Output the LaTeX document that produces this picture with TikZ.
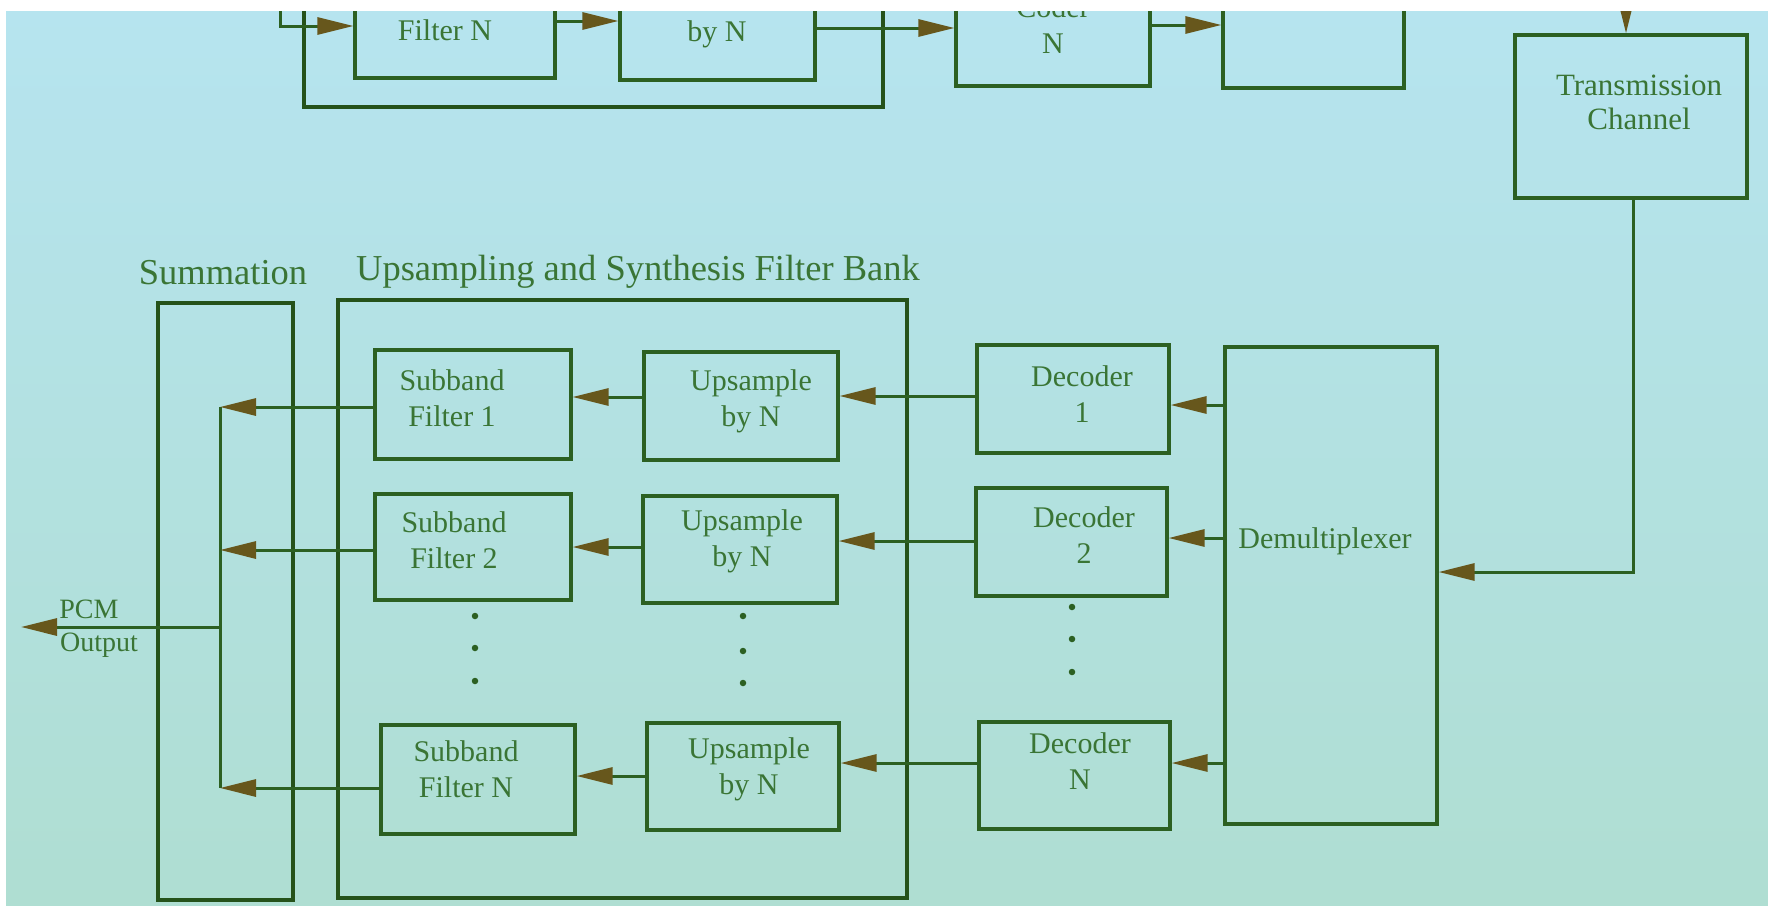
\documentclass[tikz,border=0pt]{standalone}
\usepackage{fontspec}
\setmainfont{Liberation Serif}
\usetikzlibrary{arrows.meta}

\definecolor{paper}{HTML}{B6E4EF}
\definecolor{paperlow}{HTML}{AFDED2}
\definecolor{ink}{HTML}{2C6022}
\definecolor{inkdark}{HTML}{25521A}
\definecolor{txt}{HTML}{3A7535}
\definecolor{tipcol}{HTML}{67571C}

\begin{document}
\begin{tikzpicture}[x=1pt,y=-1pt,
  blk/.style={draw=ink,line width=3.2pt,inner sep=0pt},
  frame/.style={draw=inkdark,line width=4.8pt,inner sep=0pt},
  lbl/.style={text=txt,font=\fontsize{30}{36}\selectfont,align=center,inner sep=0pt},
  ttl/.style={text=txt,font=\fontsize{36.5}{42}\selectfont,inner sep=0pt},
  small/.style={text=txt,font=\fontsize{28}{32}\selectfont,inner sep=0pt},
  wire/.style={draw=ink,line width=3pt},
  arr/.style={draw=ink,line width=3pt,-{Triangle[length=36pt,width=17pt,color=tipcol]}},
  dot/.style={circle,fill=ink,inner sep=0pt,minimum size=6.5pt}]

% page and paper
\useasboundingbox (0,0) rectangle (1768,905);
\fill[white] (0,0) rectangle (1768,905);
\shade[top color=paper,bottom color=paperlow] (6,11) rectangle (1768,905);

\begin{scope}
\clip (6,11) rectangle (1768,905);

% ---------- encoder side (top) ----------
\node[frame,minimum width=579pt,minimum height=167pt] (ana) at (593.5,23.5) {};
\node[blk,minimum width=200pt,minimum height=138pt] (fNt) at (455,9) {};
\node[lbl] (fNtt) at (445,30) {Filter N};
\node[blk,minimum width=195pt,minimum height=140pt] (bNt) at (717.5,10) {};
\node[lbl] (bNtt) at (717,34) {by N};
\node[blk,minimum width=194pt,minimum height=146pt] (cNt) at (1053,13) {};
\node[lbl] (cNtt) at (1053,25) {Coder\\N};
\node[blk,minimum width=181pt,minimum height=148pt] (mux) at (1313.5,14) {};
\node[blk,minimum width=232pt,minimum height=163pt] (tc) at (1631,116.5) {};
\node[lbl,font=\fontsize{31}{34}\selectfont] (tct) at (1639,102) {Transmission\\Channel};

\coordinate (src) at (280,-20);
\coordinate (txin) at (1626,-20);
\draw[arr] (src) |- (fNt.west |- 0,26);
\draw[arr] (fNt.east |- 0,21) -- (bNt.west |- 0,21);
\draw[arr] (bNt.east |- 0,28) -- (cNt.west |- 0,28);
\draw[arr] (cNt.east |- 0,25) -- (mux.west |- 0,25);
\draw[arr] (txin) -- (txin |- tc.north);

% ---------- decoder side (bottom) ----------
\node[ttl] (sumt) at (223,273) {Summation};
\node[ttl] (synt) at (638,272) {Upsampling and Synthesis Filter Bank};

\node[frame,minimum width=135pt,minimum height=597pt] (sum) at (225.5,601.5) {};
\node[frame,minimum width=569pt,minimum height=598pt] (syn) at (622.5,599) {};

% synthesis filters
\node[blk,minimum width=196pt,minimum height=109pt] (f1) at (473,404.5) {};
\node[lbl] (f1t) at (452,398) {Subband\\Filter 1};
\node[blk,minimum width=196pt,minimum height=106pt] (f2) at (473,547) {};
\node[lbl] (f2t) at (454,540) {Subband\\Filter 2};
\node[blk,minimum width=194pt,minimum height=109pt] (fN) at (478,779.5) {};
\node[lbl] (fNtx) at (466,769) {Subband\\Filter N};

% upsamplers
\node[blk,minimum width=194pt,minimum height=108pt] (u1) at (741,406) {};
\node[lbl] (u1t) at (751,401) {Upsample\\by N};
\node[blk,minimum width=194pt,minimum height=107pt] (u2) at (740,549.5) {};
\node[lbl] (u2t) at (742,541) {Upsample\\by N};
\node[blk,minimum width=192pt,minimum height=107pt] (uN) at (743,776.5) {};
\node[lbl] (uNt) at (749,769) {Upsample\\by N};

% decoders
\node[blk,minimum width=192pt,minimum height=108pt] (d1) at (1073,399) {};
\node[lbl] (d1t) at (1082,394) {Decoder\\1};
\node[blk,minimum width=191pt,minimum height=108pt] (d2) at (1071.5,542) {};
\node[lbl] (d2t) at (1084,535) {Decoder\\2};
\node[blk,minimum width=191pt,minimum height=107pt] (dN) at (1074.5,775.5) {};
\node[lbl] (dNt) at (1080,761) {Decoder\\N};

% demultiplexer
\node[blk,minimum width=212pt,minimum height=477pt] (dmx) at (1331,585.5) {};
\node[lbl] (dmxt) at (1325,541) {Demultiplexer};

% channel into demultiplexer
\draw[arr] (tc.south -| 1633,0) |- (dmx.east |- 0,572);

% demultiplexer to decoders
\draw[arr] (dmx.west |- 0,405) -- (d1.east |- 0,405);
\draw[arr] (dmx.west |- 0,538) -- (d2.east |- 0,538);
\draw[arr] (dmx.west |- 0,763) -- (dN.east |- 0,763);

% decoders to upsamplers
\draw[arr] (d1.west |- 0,396) -- (u1.east |- 0,396);
\draw[arr] (d2.west |- 0,541) -- (u2.east |- 0,541);
\draw[arr] (dN.west |- 0,763) -- (uN.east |- 0,763);

% upsamplers to filters
\draw[arr] (u1.west |- 0,397) -- (f1.east |- 0,397);
\draw[arr] (u2.west |- 0,547) -- (f2.east |- 0,547);
\draw[arr] (uN.west |- 0,776) -- (fN.east |- 0,776);

% summation bus
\coordinate (b1) at (220,407);
\coordinate (b2) at (220,550);
\coordinate (bN) at (220,788);
\coordinate (bo) at (220,627);
\coordinate (pcm) at (21,627);
\draw[wire] (b1) -- (bN);
\draw[arr] (f1.west |- b1) -- (b1);
\draw[arr] (f2.west |- b2) -- (b2);
\draw[arr] (fN.west |- bN) -- (bN);
\draw[arr] (bo) -- (pcm);
\node[small] (pcmt) at (89,609) {PCM};
\node[small] (outt) at (99,645) {Output};

% continuation dots
\foreach \y [count=\i] in {616,648,681} \node[dot] (fd\i) at (475,\y) {};
\foreach \y [count=\i] in {616,651,683} \node[dot] (ud\i) at (743,\y) {};
\foreach \y [count=\i] in {607,639,672} \node[dot] (dd\i) at (1072,\y) {};
\end{scope}
\end{tikzpicture}
\end{document}
